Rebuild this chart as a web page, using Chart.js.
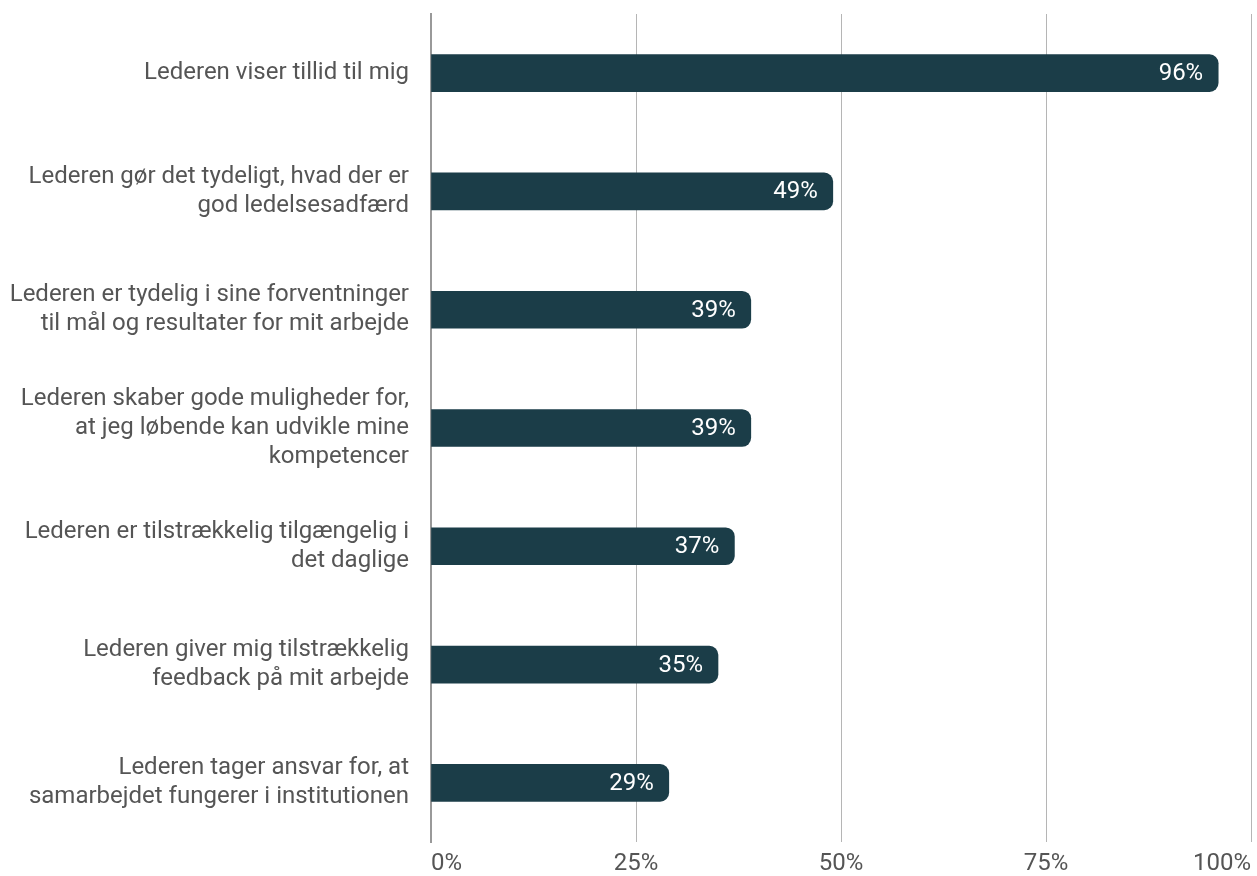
<!DOCTYPE html>
<html>
<head>
<meta charset="utf-8">
<script src="https://cdn.jsdelivr.net/npm/chart.js@4/dist/chart.umd.min.js"></script>
<style>
  html, body { margin: 0; padding: 0; background: #fff; }
  #wrap { width: 1257px; height: 876px; }
</style>
</head>
<body>
<div id="wrap"><canvas id="chart"></canvas></div>
<script>
// Udsagn (multiline labels) og andel enige i procent
const categories = [
    ['Lederen viser tillid til mig'],
    ['Lederen gør det tydeligt, hvad der er', 'god ledelsesadfærd'],
    ['Lederen er tydelig i sine forventninger', 'til mål og resultater for mit arbejde'],
    ['Lederen skaber gode muligheder for,', 'at jeg løbende kan udvikle mine', 'kompetencer'],
    ['Lederen er tilstrækkelig tilgængelig i', 'det daglige'],
    ['Lederen giver mig tilstrækkelig', 'feedback på mit arbejde'],
    ['Lederen tager ansvar for, at', 'samarbejdet fungerer i institutionen']
];
const values = [96, 49, 39, 39, 37, 35, 29];
const xTicks = [0, 25, 50, 75, 100];

const barColor = '#1b3d48';
const textColor = '#555555';

// tegn procent-tal inde i enden af hver bjælke
const valueLabels = {
    id: 'valueLabels',
    afterDatasetsDraw(chart) {
        const ctx = chart.ctx;
        const meta = chart.getDatasetMeta(0);
        ctx.save();
        ctx.font = '24px Roboto';
        ctx.fillStyle = '#ffffff';
        ctx.textAlign = 'right';
        ctx.textBaseline = 'middle';
        meta.data.forEach(function (bar, i) {
            ctx.fillText(values[i] + '%', bar.x - 15, bar.y + 1);
        });
        ctx.restore();
    }
};

new Chart(document.getElementById('chart'), {
    type: 'bar',
    data: {
        labels: categories,
        datasets: [{
            data: values,
            backgroundColor: barColor,
            barThickness: 37,
            borderRadius: { topRight: 9, bottomRight: 9, topLeft: 0, bottomLeft: 0 },
            borderSkipped: false
        }]
    },
    options: {
        indexAxis: 'y',
        responsive: true,
        maintainAspectRatio: false,
        animation: false,
        layout: { padding: { top: 14, right: 6, bottom: 0, left: 0 } },
        plugins: {
            legend: { display: false },
            tooltip: { enabled: false }
        },
        scales: {
            x: {
                min: 0,
                max: 100,
                afterBuildTicks: function (scale) {
                    scale.ticks = xTicks.map(v => ({ value: v }));
                },
                afterFit: function (scale) {
                    scale.height = 34;
                    scale.paddingLeft = 0;
                    scale.paddingRight = 0;
                },
                grid: { color: '#b5b5b5', lineWidth: 1, drawTicks: false },
                border: { display: false },
                ticks: {
                    color: textColor,
                    font: { family: 'Roboto', size: 24 },
                    padding: 8,
                    align: 'inner',
                    maxRotation: 0,
                    callback: v => v + '%'
                }
            },
            y: {
                grid: { display: false, drawTicks: false },
                border: { display: true, color: '#999999', width: 2 },
                afterFit: function (scale) {
                    scale.width = 431;
                    scale.paddingTop = 0;
                    scale.paddingBottom = 0;
                },
                ticks: {
                    color: textColor,
                    font: { family: 'Roboto', size: 24, lineHeight: 1.2 },
                    padding: 22
                }
            }
        }
    },
    plugins: [valueLabels]
});
</script>
</body>
</html>
